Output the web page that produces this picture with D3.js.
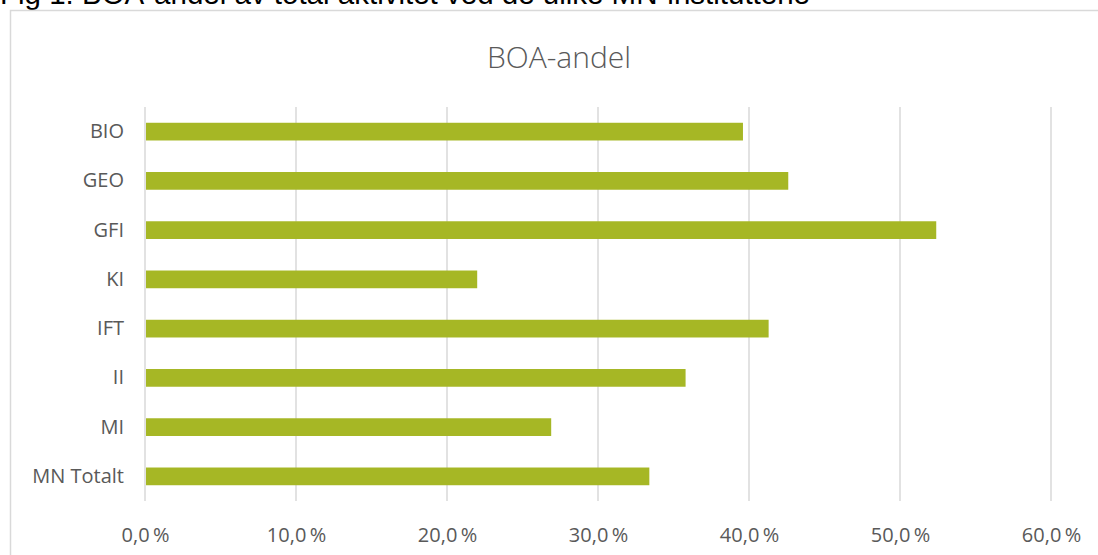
<!DOCTYPE html>
<html>
<head>
<meta charset="utf-8">
<script src="https://cdn.jsdelivr.net/npm/d3@7"></script>
<style>
  body { margin: 0; background: #fff; }
  svg { display: block; }
</style>
</head>
<body>
<div class="canvas"></div>
<script>
// data
const institutes = ['BIO', 'GEO', 'GFI', 'KI', 'IFT', 'II', 'MI', 'MN Totalt'];
const boaShare = [39.6, 42.6, 52.4, 22.0, 41.3, 35.8, 26.9, 33.4];
const xTicks = [0, 10, 20, 30, 40, 50, 60];

const dims = {width: 1098, height: 555};
const plot = {left: 145, right: 1051, top: 107, bottom: 501};
const labelFont = 'Open Sans, Lato, sans-serif';

const svg = d3.select('.canvas')
    .append('svg')
    .attr('width', dims.width)
    .attr('height', dims.height);

// caption above the chart box (cut off at the top in the picture)
svg.append('text')
    .attr('x', 0)
    .attr('y', 4)
    .attr('font-family', 'Liberation Sans, Arial, sans-serif')
    .attr('font-size', 29.5)
    .attr('fill', '#000')
    .text('Fig 1: BOA-andel av total aktivitet ved de ulike MN-instituttene');

// chart box
svg.append('rect')
    .attr('x', 10.5)
    .attr('y', 10.5)
    .attr('width', 1100)
    .attr('height', 600)
    .attr('fill', '#fff')
    .attr('stroke', '#d9d9d9')
    .attr('stroke-width', 1.5);

svg.append('text')
    .attr('x', 559)
    .attr('y', 68)
    .attr('text-anchor', 'middle')
    .attr('font-family', labelFont)
    .attr('font-size', 30)
    .attr('font-weight', 300)
    .attr('fill', '#595959')
    .text('BOA-andel');

const x = d3.scaleLinear()
    .domain([0, 60])
    .range([plot.left, plot.right]);

const y = d3.scaleBand()
    .domain(institutes)
    .range([plot.top, plot.bottom])
    .paddingInner(0.64)
    .paddingOuter(0.32);

//gridlines
svg.append('g')
    .selectAll('line')
    .data(xTicks)
    .join('line')
    .attr('x1', d => x(d))
    .attr('x2', d => x(d))
    .attr('y1', plot.top)
    .attr('y2', plot.bottom)
    .attr('stroke', '#d9d9d9')
    .attr('stroke-width', 1.5);

//x axis labels
const fmt = d => d3.format('.1f')(d).replace('.', ',') + '\u2009%';
const xAxis = d3.axisBottom(x)
    .tickValues(xTicks)
    .tickFormat(fmt)
    .tickSize(0)
    .tickPadding(0);

const xg = svg.append('g')
    .attr('transform', `translate(0, ${plot.bottom + 41})`)
    .call(xAxis);
xg.select('.domain').remove();
xg.selectAll('text')
    .attr('dy', 0)
    .attr('font-family', labelFont)
    .attr('font-size', 20)
    .attr('fill', '#595959');

//y axis labels
const yAxis = d3.axisLeft(y).tickSize(0).tickPadding(21);
const yg = svg.append('g')
    .attr('transform', `translate(${plot.left}, 0)`)
    .call(yAxis);
yg.select('.domain').remove();
yg.selectAll('text')
    .attr('font-family', labelFont)
    .attr('font-size', 20)
    .attr('fill', '#595959');

//bars
const rows = institutes.map((name, i) => ({name, value: boaShare[i]}));
svg.append('g')
    .selectAll('rect')
    .data(rows)
    .join('rect')
    .attr('x', x(0) + 1)
    .attr('y', d => y(d.name))
    .attr('width', d => x(d.value) - x(0) - 1)
    .attr('height', y.bandwidth())
    .attr('fill', '#a6b725');
</script>
</body>
</html>
